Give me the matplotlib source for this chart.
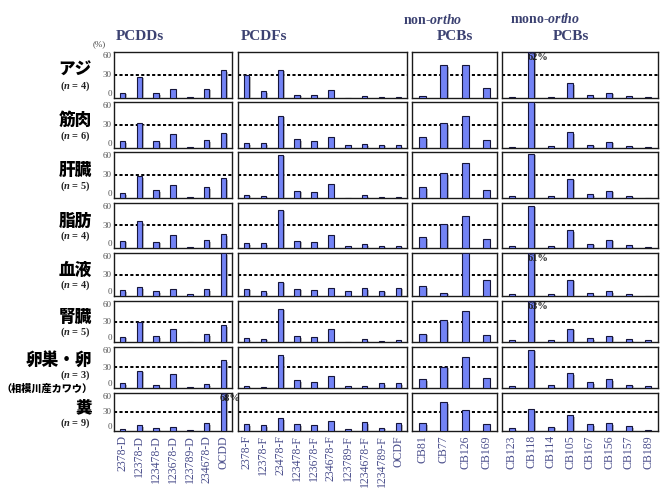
import matplotlib
matplotlib.use('Agg')
import matplotlib.pyplot as plt
import matplotlib.patheffects as pe

plt.rcParams['mathtext.fontset'] = 'custom'
plt.rcParams['mathtext.it'] = 'Liberation Serif:italic:bold'
plt.rcParams['mathtext.rm'] = 'Liberation Serif:bold'

# ---------------- data ----------------
tissues = ['アジ', '筋肉', '肝臓', '脂肪', '血液', '腎臓', '卵巣・卵', '糞']
n_values = [4, 6, 5, 4, 4, 5, 3, 9]
tissue_note = {6: '（相模川産カワウ）'}

pcdd_labels = ['2378-D', '12378-D', '123478-D', '123678-D', '123789-D', '234678-D', 'OCDD']
pcdf_labels = ['2378-F', '12378-F', '23478-F', '123478-F', '123678-F', '234678-F',
               '123789-F', '1234678-F', '1234789-F', 'OCDF']
nonortho_labels = ['CB81', 'CB77', 'CB126', 'CB169']
monoortho_labels = ['CB123', 'CB118', 'CB114', 'CB105', 'CB167', 'CB156', 'CB157', 'CB189']

pcdd = [
    [7, 28, 6.5, 12, 1.5, 12, 36.5],
    [9, 32.5, 8.7, 18, 1.3, 10.4, 20],
    [6.5, 28.7, 10, 17.4, 1.7, 14, 26],
    [9.6, 35.6, 8.3, 17.8, 1.7, 10.4, 18.7],
    [8, 12.6, 6.5, 9.3, 2.3, 9.3, 60],
    [7.8, 30, 8.8, 18.5, 0, 11.2, 25],
    [7.2, 25.5, 4.3, 20, 1.4, 5.3, 41],
    [2.6, 9.5, 4.2, 5.8, 2, 12.7, 68],
]
pcdf = [
    [30, 9, 37, 4.5, 4.5, 11, 0, 2.6, 1.3, 1.3],
    [6.5, 6.5, 42, 11.3, 8.7, 15, 4, 5, 4.3, 4],
    [4.3, 3, 56.5, 9.6, 7.4, 18, 0, 4, 1.3, 1.3],
    [6.5, 6.5, 51, 9.6, 8.3, 17, 2, 4.8, 3, 3],
    [10, 6.5, 20, 10, 8.4, 11.6, 7.4, 10.7, 7.4, 11.6],
    [5.8, 4.9, 49, 8.8, 6.8, 19.5, 0, 3.9, 2, 2.9],
    [3.4, 1.4, 47.6, 11, 8.7, 17, 2.9, 2.9, 6.7, 6.7],
    [10.6, 9, 20, 10.6, 9, 16, 3.2, 13.8, 5.3, 12],
]
nonortho = [
    [2, 42.6, 42.6, 12.6],
    [14, 32, 42, 11],
    [14.3, 32.6, 45, 10.4],
    [14, 32.6, 42, 12],
    [13.5, 4.6, 60, 23],
    [12, 32, 46, 9.8],
    [13, 31, 44.7, 14.4],
    [12, 46, 33.4, 11],
]
monoortho = [
    [1.7, 62, 1.3, 19.6, 4, 7, 2, 1],
    [1.7, 60, 2, 21, 4.3, 8.3, 3, 1.7],
    [2, 58, 2.6, 25, 5, 9.6, 3, 0],
    [2.6, 56.5, 3, 24, 5.6, 11, 4, 1.7],
    [2.3, 61, 3.3, 23, 4.2, 7, 2.3, 0],
    [2.4, 63, 2.9, 19.5, 5.4, 9.3, 3.9, 2.4],
    [2.9, 56, 3.8, 22, 8.2, 13, 4.8, 2.9],
    [4.2, 34.5, 6.9, 25, 11, 12.7, 8, 1.6],
]

groups = [(pcdd_labels, pcdd), (pcdf_labels, pcdf),
          (nonortho_labels, nonortho), (monoortho_labels, monoortho)]
y_ticks = [0, 30, 60]
y_max = 60
ref_line = 30

# ---------------- layout (pixels) ----------------
W, H = 660, 490
col_x = [(114, 232), (238, 407), (412, 497), (502, 658)]
row_y = [(52, 98), (102, 148), (152, 198), (203, 248), (253, 296),
         (301, 342), (347, 388), (393, 431)]

SERIF = 'Liberation Serif'
JP = ['Noto Sans CJK JP', 'DejaVu Sans']
NAVY = '#3c4272'
TICKCOL = '#4b4f8c'
BARCOL = '#7383f5'

fig = plt.figure(figsize=(W / 100, H / 100), dpi=100)

def fx(px):
    return px / W

def fy(py):
    return 1 - py / H

shadow = [pe.SimplePatchShadow(offset=(1.2, -1.2), shadow_rgbFace='#9a9a9a', alpha=0.7), pe.Normal()]
tick_va = {0: 'bottom', 30: 'center', 60: 'top'}

for r in range(len(tissues)):
    y0, y1 = row_y[r]
    for c, (labels, data) in enumerate(groups):
        x0, x1 = col_x[c]
        ax = fig.add_axes([fx(x0), fy(y1), (x1 - x0) / W, (y1 - y0) / H])
        vals = data[r]
        n = len(labels)
        xs = list(range(n))
        plotted = [min(v, y_max) for v in vals]
        bars = ax.bar(xs, plotted, width=0.32, color=BARCOL, edgecolor='#15153a',
                      linewidth=0.8, zorder=3)
        for b in bars:
            b.set_path_effects(shadow)
        ax.axhline(ref_line, color='black', linestyle=(0, (1.6, 1.2)), linewidth=1.4, zorder=2)
        ax.set_xlim(-0.5, n - 0.5)
        ax.set_ylim(0, y_max)
        for i, v in enumerate(vals):
            if v > y_max:
                ax.annotate(f'{v:g}%', xy=(i, y_max), xytext=(5, -1),
                            textcoords='offset points', ha='center', va='top',
                            fontsize=7.5, fontweight='bold', family=SERIF,
                            color='#222222', zorder=5, annotation_clip=False)
        for s in ax.spines.values():
            s.set_linewidth(1.0)
            s.set_color('#1a1a1a')
        ax.set_yticks([])
        if c == 0:
            for t in y_ticks:
                ax.annotate(str(t), xy=(0, t), xycoords=('axes fraction', 'data'),
                            xytext=(-1.5, 0), textcoords='offset points',
                            ha='right', va=tick_va[t], fontsize=6.5, family=SERIF,
                            color='#555555', annotation_clip=False)
        if r == len(tissues) - 1:
            ax.set_xticks(xs)
            ax.set_xticklabels(labels, rotation=90, fontsize=8.5, family=SERIF, color=TICKCOL)
            ax.tick_params(axis='x', length=0, pad=3)
        else:
            ax.set_xticks([])

    # row labels
    yc = (y0 + y1) / 2
    if r in tissue_note:
        off_name, off_n = -7.5, 7.5
    else:
        off_name, off_n = -5, 11
    fig.text(fx(92), fy(yc + off_name), tissues[r], ha='right', va='center', fontsize=12,
             fontweight='heavy', family=JP, color='black')
    fig.text(fx(91), fy(yc + off_n), f'($n$ = {n_values[r]})', ha='right', va='center',
             fontsize=7.5, family=SERIF, fontweight='bold', color='#222222')
    if r in tissue_note:
        fig.text(fx(93), fy(yc + 21), tissue_note[r], ha='right', va='center', fontsize=7.3,
                 fontweight='heavy', family=JP, color='black')

# headers
fig.text(fx(116), fy(36), 'PCDDs', ha='left', va='center', fontsize=11, fontweight='bold',
         family=SERIF, color=NAVY)
fig.text(fx(241), fy(36), 'PCDFs', ha='left', va='center', fontsize=11, fontweight='bold',
         family=SERIF, color=NAVY)
fig.text(fx(433), fy(20), 'non-$ortho$', ha='center', va='center', fontsize=10,
         fontweight='bold', family=SERIF, color=NAVY)
fig.text(fx(455), fy(37), 'PCBs', ha='center', va='center', fontsize=11, fontweight='bold',
         family=SERIF, color=NAVY)
fig.text(fx(545), fy(19), 'mono-$ortho$', ha='center', va='center', fontsize=10,
         fontweight='bold', family=SERIF, color=NAVY)
fig.text(fx(571), fy(37), 'PCBs', ha='center', va='center', fontsize=11, fontweight='bold',
         family=SERIF, color=NAVY)
fig.text(fx(99), fy(44.5), '(%)', ha='center', va='center', fontsize=6.5, family=SERIF,
         color='#444444')

fig.savefig('out.png', dpi=100)
